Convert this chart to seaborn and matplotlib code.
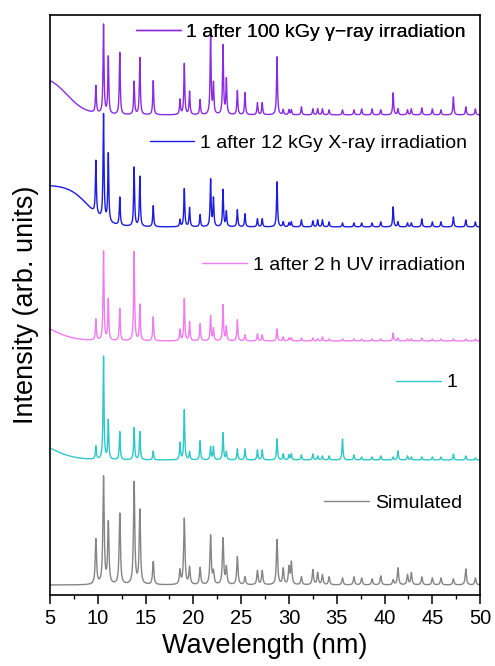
import numpy as np
import pandas as pd
import matplotlib
matplotlib.use("Agg")
import matplotlib.pyplot as plt
import seaborn as sns
from matplotlib.lines import Line2D
from matplotlib.ticker import MultipleLocator

sns.set_theme(style="white")
plt.rcParams["font.family"] = ["Liberation Sans", "DejaVu Sans"]

# ---- data -----------------------------------------------------------------
peak_pos = [9.8, 10.6, 11.1, 12.3, 13.8, 14.4, 15.8, 18.6, 19.05, 19.6, 20.7,
            21.8, 22.1, 23.1, 23.45, 24.6, 25.4, 26.7, 27.2, 28.75, 29.4, 30.0,
            30.25, 31.3, 32.5, 33.0, 33.5, 34.2, 35.6, 36.8, 37.6, 38.7, 39.6,
            40.9, 41.4, 42.4, 42.8, 43.9, 45.0, 45.9, 47.2, 48.5, 49.5]

h_sim = [45, 107, 61, 71, 102, 74, 23, 14, 66, 17, 17, 49, 12, 46, 17, 28, 8,
         14, 14, 45, 16, 17, 22, 8, 15, 12, 10, 8, 7, 8, 7, 6, 9, 5, 17, 10, 12,
         8, 7, 7, 6, 16, 7]
h_one = [13, 103, 39, 28, 32, 28, 9, 17, 50, 8, 19, 13, 13, 27, 8, 11, 11, 10,
         10, 21, 6, 5, 6, 5, 6, 4, 4, 4, 21, 5, 3, 3, 4, 3, 9, 4, 3, 3, 3, 3, 6,
         4, 2]
h_uv = [21, 89, 41, 32, 89, 36, 24, 11, 42, 19, 17, 25, 12, 36, 14, 21, 6, 7, 6,
        12, 4, 3, 3, 3, 3, 2, 4, 2, 2, 2, 2, 2, 2, 8, 3, 2, 2, 3, 2, 2, 2, 2, 2]
h_xray = [53, 105, 68, 28, 59, 50, 21, 7, 38, 19, 12, 47, 28, 37, 15, 17, 13, 8,
          8, 45, 5, 4, 5, 7, 6, 7, 7, 5, 4, 4, 4, 4, 5, 20, 5, 4, 4, 8, 5, 5, 10,
          7, 5]
h_gamma = [27, 89, 57, 62, 33, 57, 34, 15, 51, 23, 15, 82, 30, 69, 35, 24, 22,
           12, 12, 58, 5, 5, 5, 8, 6, 6, 6, 5, 5, 5, 6, 6, 5, 22, 6, 5, 6, 7, 6,
           5, 18, 8, 6]

series_names = ["Simulated", "1", "1 after 2 h UV irradiation",
                "1 after 12 kGy X-ray irradiation",
                "1 after 100 kGy \u03b3\u2212ray irradiation"]
series_heights = [h_sim, h_one, h_uv, h_xray, h_gamma]
series_offsets = [10, 135, 254, 368, 480]
# low-angle background: amplitude, midpoint, spread
bg_amp = [0, 24, 24, 42, 40]
bg_mid = [5.0, 5.0, 5.0, 9.0, 6.8]
bg_spread = [1.0, 1.26, 1.26, 1.0, 1.0]
peak_width = [0.08, 0.06, 0.06, 0.06, 0.06]
colors = ["#858585", "#2EC8C8", "#F07CF0", "#1C1CE0", "#8A2BE2"]

# ---- build curves -----------------------------------------------------------
x = np.linspace(5, 50, 4501)
frames = []
for name, hs, off, A, m, s, w in zip(series_names, series_heights, series_offsets,
                                     bg_amp, bg_mid, bg_spread, peak_width):
    y = np.zeros_like(x)
    for p, h in zip(peak_pos, hs):
        y += h / (1.0 + ((x - p) / w) ** 2)
    if A:
        y += A / (1.0 + np.exp((x - m) / s))
    frames.append(pd.DataFrame({"x": x, "y": y + off, "series": name}))
df = pd.concat(frames, ignore_index=True)

# ---- plot -------------------------------------------------------------------
fig = plt.figure(figsize=(4.95, 6.66), dpi=100)
ax = fig.add_axes([0.101, 0.1066, 0.869, 0.871])
sns.lineplot(data=df, x="x", y="y", hue="series", hue_order=series_names,
             palette=dict(zip(series_names, colors)), estimator=None,
             legend=False, linewidth=1.0, ax=ax)

ax.set_xlim(5, 50)
ax.set_ylim(0, 580)
ax.set_yticks([])
ax.set_xticks(range(5, 51, 5))
ax.xaxis.set_minor_locator(MultipleLocator(2.5))
ax.tick_params(axis="x", which="major", bottom=True, direction="out",
               length=6.5, width=1.1, color="black", labelsize=14.5,
               labelcolor="black", pad=3.5)
ax.tick_params(axis="x", which="minor", bottom=True, direction="out",
               length=3.2, width=1.0, color="black")
for sp in ax.spines.values():
    sp.set_color("black")
    sp.set_linewidth(1.2)

ax.set_xlabel("Wavelength (nm)", fontsize=19.5, color="black", labelpad=4)
ax.set_ylabel("Intensity (arb. units)", fontsize=19.5, color="black", labelpad=8)

# individual legend labels
leg_x = [0.958, 0.948, 0.965, 0.970, 0.967]
leg_y = [0.159, 0.366, 0.569, 0.779, 0.971]
for name, c, lx, ly in zip(series_names, colors, leg_x, leg_y):
    h = Line2D([], [], color=c, lw=1.0)
    leg = ax.legend([h], [name], loc="center right", bbox_to_anchor=(lx, ly),
                    bbox_transform=ax.transAxes, frameon=False, fontsize=14,
                    handlelength=2.3, handletextpad=0.3, borderpad=0,
                    borderaxespad=0)
    for t in leg.get_texts():
        t.set_color("black")
    ax.add_artist(leg)

fig.savefig("out.png", dpi=100)
